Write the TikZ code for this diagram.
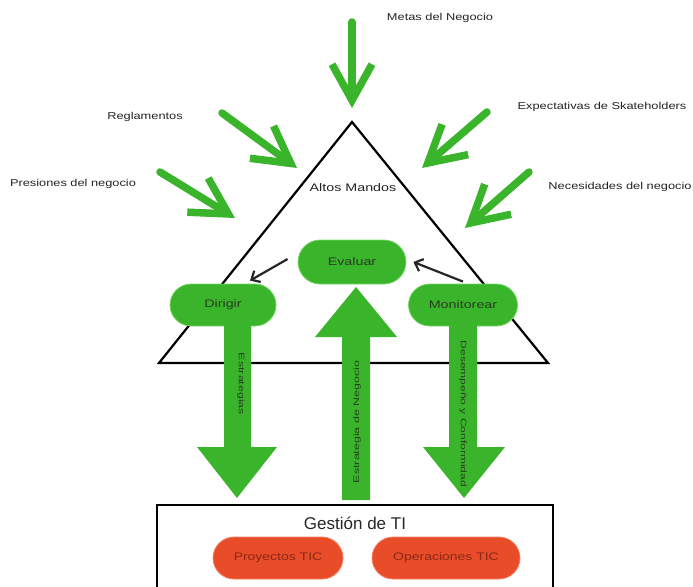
\documentclass[tikz,border=0pt]{standalone}
\usepackage{fontspec}
\setmainfont{Liberation Sans}
\usetikzlibrary{arrows.meta,shapes.misc}
\definecolor{gr}{RGB}{58,180,42}
\definecolor{grline}{RGB}{120,215,100}
\definecolor{grtxt}{RGB}{40,62,34}
\definecolor{rd}{RGB}{232,76,40}
\definecolor{rdline}{RGB}{245,130,100}
\definecolor{rdtxt}{RGB}{140,40,22}
\definecolor{lbl}{RGB}{35,35,35}
\newcommand\hs[2]{\scalebox{#1}[1]{#2}}
\begin{document}
\begin{tikzpicture}[x=1pt,y=-1pt,
  lab/.style={font=\fontsize{10}{12}\selectfont, text=lbl, inner sep=1pt},
  inarrow/.style={draw=gr, line width=7.5pt, line cap=round,
    -{Straight Barb[length=36pt,width=40pt]}},
  pillg/.style={rounded rectangle, fill=gr, draw=grline, line width=0.8pt,
    text=grtxt, font=\fontsize{11}{12}\selectfont, minimum height=42pt,
    minimum width=106pt, inner sep=0pt},
  pillr/.style={rounded rectangle, fill=rd, draw=rdline, line width=0.8pt,
    text=rdtxt, font=\fontsize{11}{12}\selectfont, minimum height=42pt,
    inner sep=0pt},
  arrtxt/.style={font=\fontsize{8}{9}\selectfont, text=grtxt, inner sep=0pt},
  thinarrow/.style={draw=black!85, line width=2.2pt,
    -{Straight Barb[length=7pt,width=13pt]}}
]
\useasboundingbox (0,0) rectangle (693,586);
\clip (0,0) rectangle (693,586);

% triangle
\draw[line width=2.2pt, line join=miter] (352,122) -- (548,363) -- (159,363) -- cycle;

% outside labels
\node[lab] (metas) at (440,18) {\hs{1.28}{Metas del Negocio}};
\node[lab] (regl) at (145,117) {\hs{1.28}{Reglamentos}};
\node[lab] (expe) at (602,107) {\hs{1.28}{Expectativas de Skateholders}};
\node[lab] (pres) at (73,184) {\hs{1.28}{Presiones del negocio}};
\node[lab] (nece) at (620,187) {\hs{1.28}{Necesidades del negocio}};
\node[lab, font=\fontsize{11}{13}\selectfont] (altos) at (353,188) {\hs{1.3}{Altos Mandos}};

% incoming arrow coordinates
\coordinate (m1) at (352,22);  \coordinate (m2) at (352,108);
\coordinate (r1) at (222,113); \coordinate (r2) at (297,168);
\coordinate (p1) at (160,172); \coordinate (p2) at (235,218);
\coordinate (e1) at (487,112); \coordinate (e2) at (422,168);
\coordinate (n1) at (529,172); \coordinate (n2) at (465,228);
\draw[inarrow] (m1) -- (m2);
\draw[inarrow] (r1) -- (r2);
\draw[inarrow] (p1) -- (p2);
\draw[inarrow] (e1) -- (e2);
\draw[inarrow] (n1) -- (n2);

% pills
\node[pillg, minimum height=44pt, minimum width=108pt] (ev) at (352,262) {\hs{1.3}{Evaluar}};
\node[pillg] (di) at (223,305) {\hs{1.3}{Dirigir}};
\node[pillg, minimum width=109pt] (mo) at (463,305) {\hs{1.3}{Monitorear}};

% thin arrows
\draw[thinarrow] ([xshift=-10pt,yshift=3pt]ev.west) -- ([xshift=27pt,yshift=3pt]di.north);
\draw[thinarrow] ([yshift=2pt]mo.north) -- ([xshift=7pt]ev.east);

% block arrows
\fill[gr] (224,318) -- (251,318) -- (251,447) -- (277,447) -- (237,498) -- (197,447) -- (224,447) -- cycle;
\fill[gr] (342,500) -- (370,500) -- (370,337) -- (397,337) -- (356,287) -- (315,337) -- (342,337) -- cycle;
\fill[gr] (449,318) -- (477,318) -- (477,447) -- (505,447) -- (464,498) -- (423,447) -- (449,447) -- cycle;

\node[arrtxt, rotate=-90] (t1) at (241,384) {\hs{1.55}{Estrategias}};
\node[arrtxt, rotate=90] (t2) at (357,422) {\hs{1.55}{Estrategia de Negocio}};
\node[arrtxt, rotate=-90] (t3) at (463,414) {\hs{1.5}{Desempeño y Conformidad}};

% bottom box
\draw[line width=2.2pt] (157,505) rectangle (553,600);
\node[font=\fontsize{17}{20}\selectfont, text=black!85, inner sep=0pt] (gest) at (355,523) {Gestión de TI};
\node[pillr, minimum width=130pt] (pt) at (278,558) {\hs{1.27}{Proyectos TIC}};
\node[pillr, minimum width=148pt] (op) at (446,558) {\hs{1.27}{Operaciones TIC}};
\end{tikzpicture}
\end{document}
